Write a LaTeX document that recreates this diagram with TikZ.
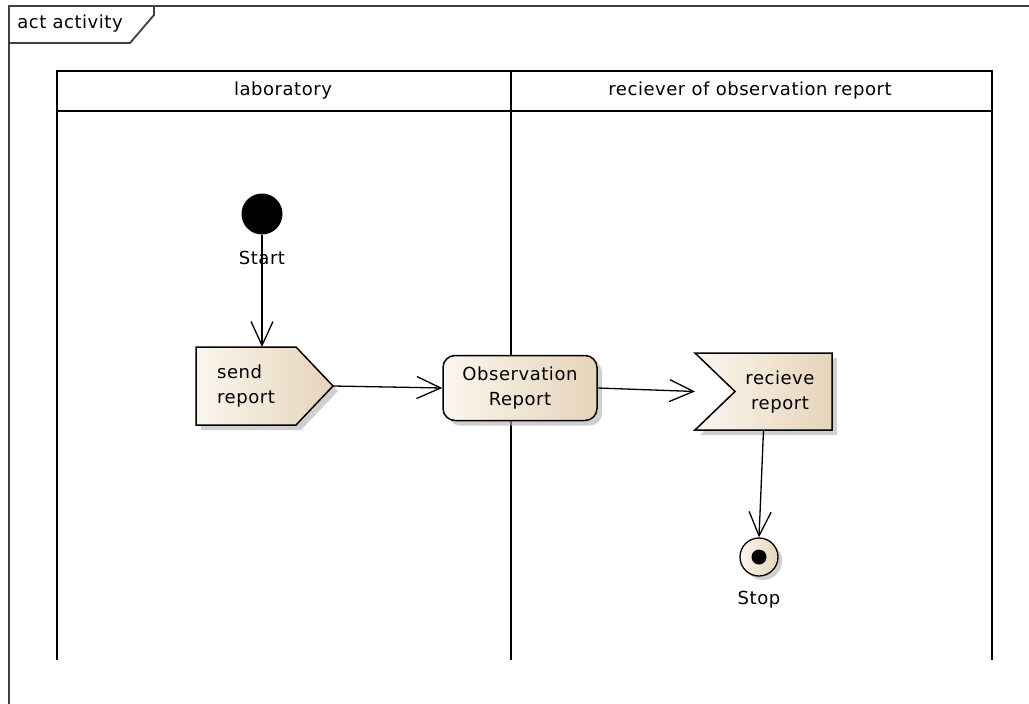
\documentclass[tikz,border=0pt]{standalone}
\usepackage{fontspec}
\setmainfont[LetterSpace=3]{DejaVu Sans}
\usetikzlibrary{arrows.meta,shadows,calc}
\definecolor{creamA}{HTML}{FBF6EE}
\definecolor{creamB}{HTML}{E6D4BA}
\definecolor{framegray}{HTML}{404040}
\begin{document}
\begin{tikzpicture}[x=1pt,y=-1pt,
  every node/.style={font=\fontsize{18}{24.5}\selectfont},
  frameline/.style={draw=framegray, line width=1.8pt},
  lane/.style={draw=black, line width=1.6pt},
  flow/.style={draw=black, line width=1.3pt, -{Straight Barb[length=24pt,width=22pt]}},
  act/.style={draw=black, line width=1.5pt, left color=creamA, right color=creamB,
    drop shadow={shadow xshift=5pt, shadow yshift=-5pt, fill=black!30, opacity=0.6}},
  box/.style={inner sep=0pt, outer sep=0pt},
]
\useasboundingbox (0,0) rectangle (1029,704);
\fill[white] (0,0) rectangle (1029,704);

% frame
\draw[frameline] (9,704) -- (9,6) -- (1029,6);
\draw[frameline] (9,43) -- (130,43) -- (154,15) -- (154,6);
\node (frametitle) at (70,24) {act activity};

% swimlanes
\draw[lane] (57,660) -- (57,71) -- (992,71) -- (992,660);
\draw[lane] (57,111) -- (992,111);
\draw[lane] (511,71) -- (511,660);
\node (labhead) at (283,91) {laboratory};
\node (rcvhead) at (750,91) {reciever of observation report};

% start
\node[circle, fill=black, minimum size=41pt, inner sep=0pt] (start) at (262,214) {};
\node (startl) at (262,258) {Start};

% send report (send signal)
\node[box, minimum width=137pt, minimum height=78pt] (send) at (264.5,386) {};
\draw[act] (send.north west) -- ([xshift=-37pt]send.north east) -- (send.east)
  -- ([xshift=-37pt]send.south east) -- (send.south west) -- cycle;
\node[align=left, anchor=west, inner sep=0pt] (sendt) at (217,386) {send\\report};

% observation report (object)
\node[act, rounded corners=12pt, minimum width=154pt, minimum height=65pt,
  align=center, inner sep=0pt] (obs) at (520,388) {Observation\\Report};

% recieve report (accept event)
\node[box, minimum width=137pt, minimum height=77pt] (rec) at (763.5,391.5) {};
\draw[act] (rec.north west) -- (rec.north east) -- (rec.south east)
  -- (rec.south west) -- ([xshift=40pt]rec.west) -- cycle;
\node[align=center, inner sep=0pt] (rect) at (780,392) {recieve\\report};

% stop
\node[circle, draw=black, line width=1.3pt, left color=creamA, right color=creamB,
  minimum size=38pt, inner sep=0pt,
  drop shadow={shadow xshift=4pt, shadow yshift=-4pt, fill=black!30, opacity=0.6}] (stop) at (759,557) {};
\node[circle, fill=black, minimum size=15pt, inner sep=0pt] (stopdot) at (stop.center) {};
\node (stopl) at (759,600) {Stop};

% flows
\draw[flow] (start.south) -- (start.south |- send.north);
\draw[flow] (send.east) -- (obs.west);
\draw[flow] (obs.east) -- (rec.west);
\draw[flow] (rec.south) -- (stop.north);
\end{tikzpicture}
\end{document}
